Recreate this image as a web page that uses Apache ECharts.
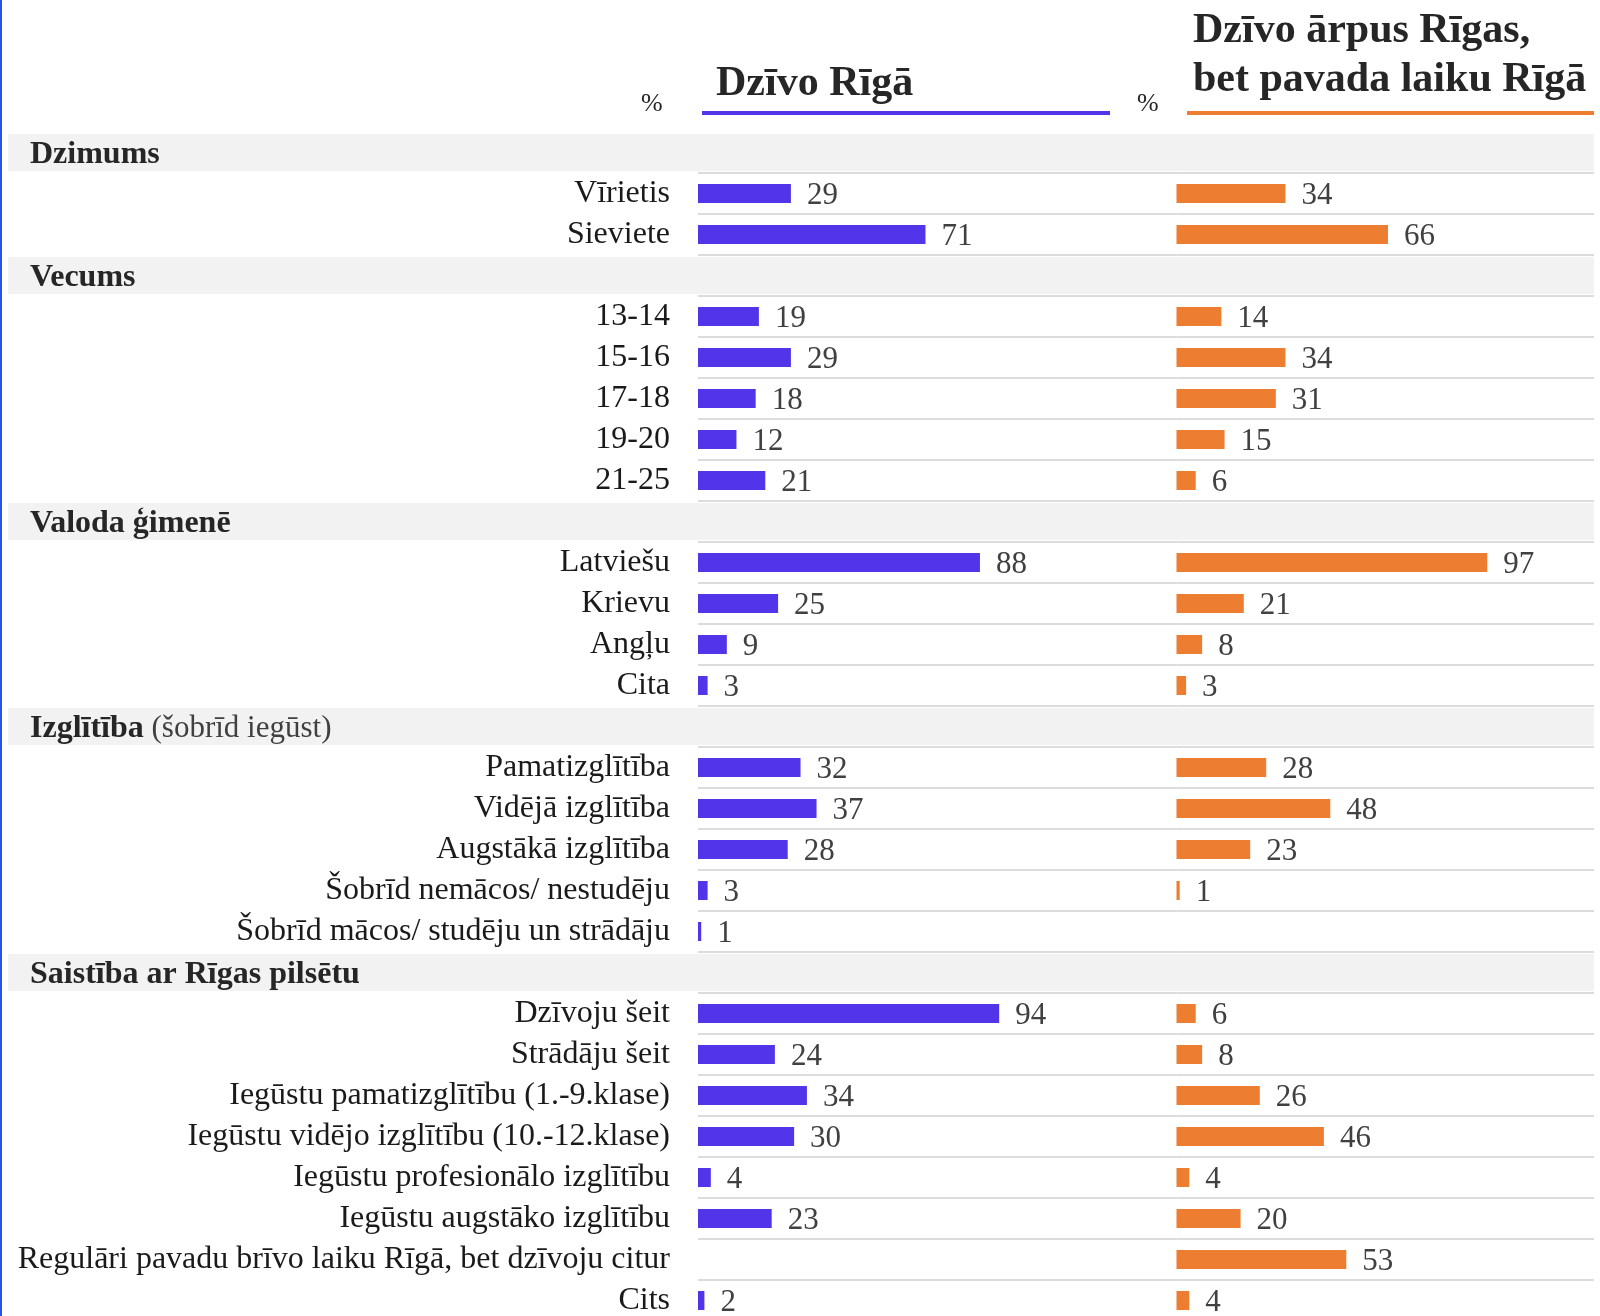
<!DOCTYPE html>
<html>
<head>
<meta charset="utf-8">
<script src="https://cdn.jsdelivr.net/npm/echarts@6/dist/echarts.min.js"></script>
<style>
  html, body { margin: 0; padding: 0; background: #fff; }
  #chart { width: 1600px; height: 1316px; }
</style>
</head>
<body>
<div id="chart"></div>
<script>
// grupas un to apakškategorijas
const groupNames = ['Dzimums', 'Vecums', 'Valoda ģimenē', 'Izglītība (šobrīd iegūst)', 'Saistība ar Rīgas pilsētu'];
const groupItems = [
  ['Vīrietis', 'Sieviete'],
  ['13-14', '15-16', '17-18', '19-20', '21-25'],
  ['Latviešu', 'Krievu', 'Angļu', 'Cita'],
  ['Pamatizglītība', 'Vidējā izglītība', 'Augstākā izglītība', 'Šobrīd nemācos/ nestudēju', 'Šobrīd mācos/ studēju un strādāju'],
  ['Dzīvoju šeit', 'Strādāju šeit', 'Iegūstu pamatizglītību (1.-9.klase)', 'Iegūstu vidējo izglītību (10.-12.klase)',
   'Iegūstu profesionālo izglītību', 'Iegūstu augstāko izglītību', 'Regulāri pavadu brīvo laiku Rīgā, bet dzīvoju citur', 'Cits']
];
// Dzīvo Rīgā, %
const rigaValues = [
  [29, 71],
  [19, 29, 18, 12, 21],
  [88, 25, 9, 3],
  [32, 37, 28, 3, 1],
  [94, 24, 34, 30, 4, 23, null, 2]
];
// Dzīvo ārpus Rīgas, bet pavada laiku Rīgā, %
const outsideValues = [
  [34, 66],
  [14, 34, 31, 15, 6],
  [97, 21, 8, 3],
  [28, 48, 23, 1, null],
  [6, 8, 26, 46, 4, 20, 53, 4]
];
const seriesNames = ['Dzīvo Rīgā', 'Dzīvo ārpus Rīgas,\nbet pavada laiku Rīgā'];

// saliek rindas: grupas virsraksts + vienumi
let rows = [], isHeader = [], leftData = [], rightData = [], bandData = [];
groupNames.forEach((g, gi) => {
  rows.push(g); isHeader.push(true);
  leftData.push(null); rightData.push(null); bandData.push(1);
  groupItems[gi].forEach((it, ii) => {
    rows.push(it); isHeader.push(false);
    leftData.push(rigaValues[gi][ii]); rightData.push(outsideValues[gi][ii]); bandData.push(null);
  });
});

const FONT = 'Liberation Serif';
const BLUE = '#5234e9';
const ORANGE = '#ed7d31';
const TOP = 132, ROW = 41;
const H = rows.length * ROW;
const PX = 3.204; // px uz 1%
const L1 = 698, L2 = 1176.5, R = 1594;

const myChart = echarts.init(document.getElementById('chart'));

const valueLabel = {
  show: true, position: 'right', distance: 16, offset: [0, 2],
  fontFamily: FONT, fontSize: 31, color: '#404040'
};
const gridLines = { show: true, interval: 0, showMinLine: false, lineStyle: { color: '#dcdcdc', width: 2 } };

const option = {
  animation: false,
  backgroundColor: '#fff',
  title: [
    { text: seriesNames[0], left: 711, top: 58,
      textStyle: { fontFamily: FONT, fontSize: 42, fontWeight: 'bold', color: '#262626', lineHeight: 42 } },
    { text: seriesNames[1], left: 1188, top: 2,
      textStyle: { fontFamily: FONT, fontSize: 42, fontWeight: 'bold', color: '#262626', lineHeight: 49 } },
    { text: '%', left: 636, top: 86, textStyle: { fontFamily: FONT, fontSize: 26, fontWeight: 'normal', color: '#262626' } },
    { text: '%', left: 1132, top: 86, textStyle: { fontFamily: FONT, fontSize: 26, fontWeight: 'normal', color: '#262626' } }
  ],
  graphic: [
    { type: 'rect', left: 0, top: 0, shape: { width: 2, height: 1316 }, style: { fill: '#2a55e0' } },
    { type: 'line', shape: { x1: 702, y1: 113, x2: 1110, y2: 113 }, style: { stroke: BLUE, lineWidth: 4 } },
    { type: 'line', shape: { x1: 1187, y1: 113, x2: 1594, y2: 113 }, style: { stroke: ORANGE, lineWidth: 4 } }
  ],
  grid: [
    { left: 8, width: R - 8, top: TOP, height: H, outerBoundsMode: 'none', containLabel: false },
    { left: L1, width: L2 - L1, top: TOP, height: H, outerBoundsMode: 'none', containLabel: false },
    { left: L2, width: R - L2, top: TOP, height: H, outerBoundsMode: 'none', containLabel: false }
  ],
  xAxis: [
    { gridIndex: 0, type: 'value', min: 0, max: 1, show: false },
    { gridIndex: 1, type: 'value', min: 0, max: (L2 - L1) / PX, show: false },
    { gridIndex: 2, type: 'value', min: 0, max: (R - L2) / PX, show: false }
  ],
  yAxis: [
    { gridIndex: 0, type: 'category', data: rows, inverse: true, z: 5,
      axisLine: { show: false }, axisTick: { show: false }, splitLine: { show: false },
      axisLabel: {
        interval: 0, inside: true, margin: 22, padding: [5, 0, 0, 0],
        formatter: (v, i) => {
          if (!isHeader[i]) return '';
          const k = v.indexOf(' (');
          if (k > 0) return '{b|' + v.slice(0, k) + '}{n| ' + v.slice(k + 1) + '}';
          return '{b|' + v + '}';
        },
        rich: {
          b: { fontFamily: FONT, fontSize: 32, fontWeight: 'bold', color: '#262626' },
          n: { fontFamily: FONT, fontSize: 31, color: '#404040' }
        }
      } },
    { gridIndex: 1, type: 'category', data: rows, inverse: true,
      axisLine: { show: false }, axisTick: { show: false }, splitLine: gridLines,
      axisLabel: {
        interval: 0, margin: 28, fontFamily: FONT, fontSize: 32, color: '#1a1a1a', padding: [3, 0, 0, 0],
        formatter: (v, i) => isHeader[i] ? '' : v
      } },
    { gridIndex: 2, type: 'category', data: rows, inverse: true,
      axisLine: { show: false }, axisTick: { show: false }, splitLine: gridLines,
      axisLabel: { show: false } }
  ],
  series: [
    { type: 'bar', xAxisIndex: 0, yAxisIndex: 0, data: bandData, barWidth: 37, silent: true,
      itemStyle: { color: '#f2f2f2' } },
    { name: 'Dzīvo Rīgā', type: 'bar', xAxisIndex: 1, yAxisIndex: 1, data: leftData, barWidth: 19,
      itemStyle: { color: BLUE }, label: valueLabel },
    { name: 'Dzīvo ārpus Rīgas', type: 'bar', xAxisIndex: 2, yAxisIndex: 2, data: rightData, barWidth: 19,
      itemStyle: { color: ORANGE }, label: valueLabel }
  ]
};
option && myChart.setOption(option);
</script>
</body>
</html>
